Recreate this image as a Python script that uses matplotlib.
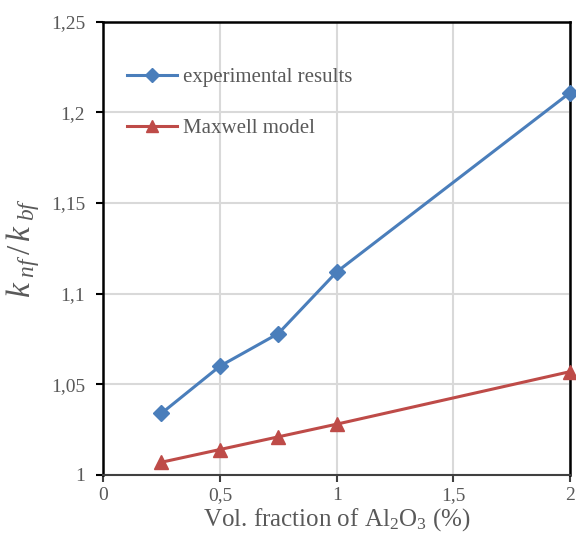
import matplotlib
matplotlib.use("Agg")
import matplotlib.pyplot as plt

vol_fraction = [0.25, 0.5, 0.75, 1.0, 2.0]
experimental = [1.034, 1.060, 1.078, 1.112, 1.211]
maxwell = [1.007, 1.014, 1.021, 1.028, 1.057]

x_ticks = [0, 0.5, 1, 1.5, 2]
x_labels = ["0", "0,5", "1", "1,5", "2"]
y_ticks = [1, 1.05, 1.1, 1.15, 1.2, 1.25]
y_labels = ["1", "1,05", "1,1", "1,15", "1,2", "1,25"]

plt.rcParams["font.family"] = ["Liberation Serif", "DejaVu Serif"]
plt.rcParams["mathtext.fontset"] = "custom"
plt.rcParams["mathtext.rm"] = "Liberation Serif"
plt.rcParams["mathtext.it"] = "Liberation Serif:italic"

fig = plt.figure(figsize=(5.76, 5.33), dpi=100)
ax = fig.add_axes([0.179, 0.109, 0.811, 0.850])

ax.plot(vol_fraction, experimental, color="#4a7ebb", lw=2.2, marker="D",
        ms=8, label="experimental results", clip_on=False, zorder=3)
ax.plot(vol_fraction, maxwell, color="#be4b48", lw=2.2, marker="^",
        ms=10, label="Maxwell model", clip_on=False, zorder=3)

ax.set_xlim(0, 2)
ax.set_ylim(1, 1.25)
ax.set_xticks(x_ticks)
ax.set_yticks(y_ticks)
ax.set_xticklabels(x_labels)
ax.set_yticklabels(y_labels)
ax.tick_params(labelsize=14, length=5, width=1.5)
ax.tick_params(axis="y", colors="black", labelcolor="#595959", pad=8)
ax.tick_params(axis="x", colors="#404040", labelcolor="#595959", pad=4)

ax.grid(True, color="#d9d9d9", lw=1.5)
ax.set_axisbelow(True)
for side in ["top", "right", "left"]:
    ax.spines[side].set_color("black")
    ax.spines[side].set_linewidth(1.8)
ax.spines["bottom"].set_color("#404040")
ax.spines["bottom"].set_linewidth(1.5)

ax.set_xlabel("Vol. fraction of Al$_2$O$_3$ (%)", fontsize=18, color="#595959", labelpad=1)
ax.set_ylabel("$k_{\\ nf}\\,/\\,k_{\\ bf}$", fontsize=24, color="#595959", labelpad=6)

ax.legend(loc="upper left", bbox_to_anchor=(0.01, 0.94), frameon=False,
          fontsize=15, labelcolor="#595959", markerscale=0.9,
          handlelength=2.4, handletextpad=0.3, labelspacing=1.5)

fig.savefig("out.png", dpi=100)
